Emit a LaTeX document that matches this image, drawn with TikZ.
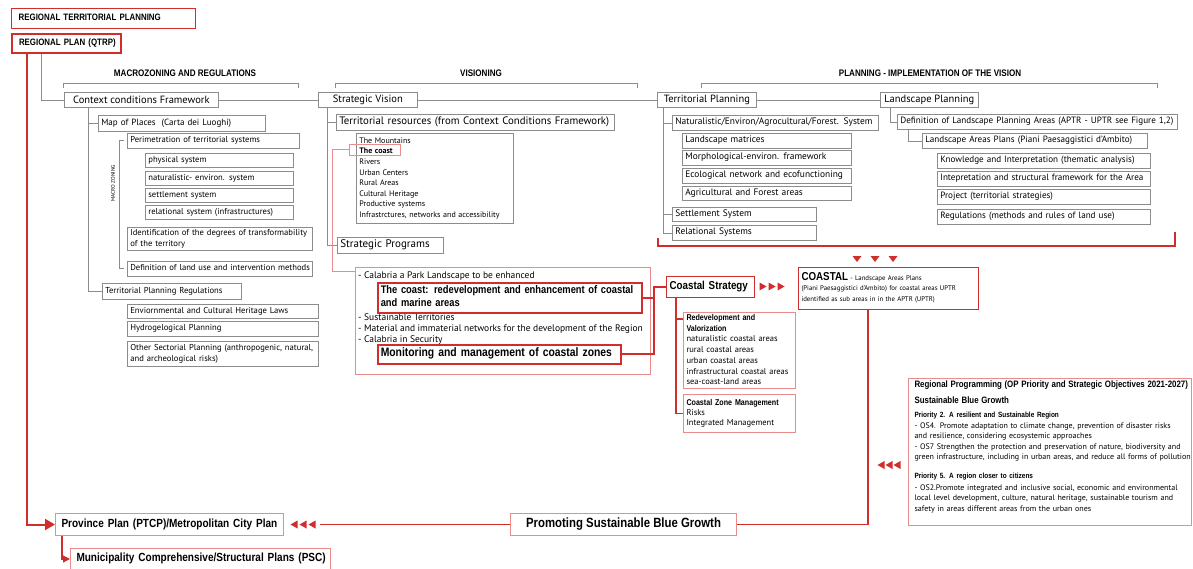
\documentclass[tikz,border=0pt]{standalone}
\usepackage{fontspec}
\setmainfont{PT Sans}
\newfontfamily\hf[FakeStretch=0.85]{Liberation Sans}
\usetikzlibrary{arrows.meta}
\definecolor{myred}{RGB}{208,45,45}
\definecolor{lred}{RGB}{234,140,140}
\definecolor{lgray}{RGB}{140,140,140}
\newcommand\bx[7][]{\pgfmathsetmacro\bxw{#5-#3-6}\pgfmathsetmacro\bxh{#6-#4}%
\node[anchor=north west,text width=\bxw pt,minimum height=\bxh pt,inner xsep=3pt,inner ysep=0pt,#1] (#2) at (#3,#4) {\begin{tabular}{@{}l@{}}#7\end{tabular}};}
\newcommand\cbx[7][]{\pgfmathsetmacro\bxw{#5-#3}\pgfmathsetmacro\bxh{#6-#4}%
\node[anchor=north west,minimum width=\bxw pt,minimum height=\bxh pt,inner sep=0pt,#1] (#2) at (#3,#4) {#7};}
\begin{document}
\begin{tikzpicture}[x=1pt,y=-1pt,
  gb/.style={draw=lgray,line width=0.7pt,fill=white,font=\fontsize{9.4}{10.5}\selectfont},
  lpb/.style={font=\fontsize{9.1}{10.5}\selectfont},
  big/.style={font=\fontsize{10.5}{12}\selectfont},
  sm/.style={font=\fontsize{8.6}{10.5}\selectfont},
  rb/.style={draw=myred,line width=1.5pt,fill=white},
  lrb/.style={draw=lred,line width=1pt,fill=white},
  gl/.style={draw=lgray,line width=0.7pt},
  rl/.style={draw=myred,line width=1.6pt},
  lrl/.style={draw=lred,line width=1pt},
  hd/.style={font=\hf\bfseries\fontsize{9.5}{10}\selectfont,inner sep=0pt},
  tt/.style={font=\hf\bfseries\fontsize{9.3}{10}\selectfont},
  bf/.style={font=\hf\bfseries\fontsize{11}{13}\selectfont},
  rtri/.pic={\fill[myred] (-3.5,-4) -- (3.5,0) -- (-3.5,4) -- cycle;},
  ltri/.pic={\fill[myred] (3.5,-4) -- (-3.5,0) -- (3.5,4) -- cycle;},
  dtri/.pic={\fill[myred] (-4.5,-3) -- (4.5,-3) -- (0,3) -- cycle;}]
\useasboundingbox (0,0) rectangle (1193,568);
% top titles
\bx[rb,line width=1.3pt,tt]{rtp}{11}{8}{195}{28}{\hspace*{4pt}REGIONAL TERRITORIAL PLANNING}
\bx[rb,line width=2pt,tt]{rp}{11}{33}{120}{52}{\hspace*{4pt}REGIONAL PLAN (QTRP)}
% headers
\node[hd] (h1) at (185,73) {MACROZONING AND REGULATIONS};
\node[hd] (h2) at (481,73) {VISIONING};
\node[hd] (h3) at (930,73) {PLANNING - IMPLEMENTATION OF THE VISION};
\draw[gl] (63,88) -- (63,83) -- (298,83) -- (298,88);
\draw[gl] (335,88) -- (335,83) -- (637,83) -- (637,88);
\draw[gl] (701,88) -- (701,83) -- (1157,83) -- (1157,88);
% main row
\cbx[gb,big]{ctx}{64}{92}{218}{107}{Context conditions Framework}
\cbx[gb,big]{sv}{318}{92}{417}{107}{Strategic Vision}
\cbx[gb,big]{tp}{657}{92}{756}{107}{Territorial Planning}
\cbx[gb,big]{lp}{880}{92}{978}{107}{Landscape Planning}
% context tree
\bx[gb,font=\fontsize{9}{10.5}\selectfont]{map}{98}{115}{265}{131}{Map of Places\ \ (Carta dei Luoghi)}
\bx[gb,sm]{per}{127}{133}{299}{148}{Perimetration of territorial systems}
\bx[gb,sm]{phy}{145}{153}{293}{167}{physical system}
\bx[gb,sm]{nat}{145}{171}{293}{185}{naturalistic- environ. system}
\bx[gb,sm]{set}{145}{188}{293}{202}{settlement system}
\bx[gb,sm]{rel}{145}{205}{293}{219}{relational system (infrastructures)}
\bx[gb,sm]{ide}{127}{227}{312}{250}{Identification of the degrees of transformability\\of the territory}
\bx[gb,sm]{def}{127}{261}{312}{276}{Definition of land use and intervention methods}
\bx[gb,sm]{tpr}{102}{283}{241}{299}{Territorial Planning Regulations}
\bx[gb,sm]{env}{127}{304}{318}{318}{Enviornmental and Cultural Heritage Laws}
\bx[gb,sm]{hyd}{127}{321}{318}{336}{Hydrogelogical Planning}
\bx[gb,sm]{oth}{127}{341}{318}{366}{Other Sectorial Planning (anthropogenic, natural,\\and archeological risks)}
\node[rotate=90,font=\fontsize{5.3}{6}\selectfont,inner sep=0pt] (mz) at (113,183) {MACRO ZONING};
\draw[gl] (124,140) -- (119,140) -- (119,268) -- (124,268);
\draw[gl] ([xshift=30pt]rp.south west) |- (ctx.west);
\draw[gl] (ctx.east) -- (sv.west);
\draw[gl] (sv.east) -- (tp.west);
\draw[gl] (tp.east) -- (lp.west);
\draw[gl] ([xshift=24pt]ctx.south west) |- (map.west);
\draw[gl] ([xshift=24pt]ctx.south west) |- (tpr.west);
% vision tree
\bx[gb,font=\fontsize{10.8}{12}\selectfont]{trs}{336}{114}{614}{130}{Territorial resources (from Context Conditions Framework)}
\bx[gb,font=\fontsize{8}{10.6}\selectfont]{trl}{356}{133}{513}{223}{The Mountains\\{\bfseries The coast}\\Rivers\\Urban Centers\\Rural Areas\\Cultural Heritage\\Productive systems\\Infrastrctures, networks and accessibility}
\node[draw=lred,line width=0.8pt,minimum width=51pt,minimum height=11pt,anchor=north west,inner sep=0pt] (coast) at (349,144) {};
\bx[gb,font=\fontsize{11}{12}\selectfont]{sp}{337}{237}{443}{253}{Strategic Programs}
\draw[gl] ([xshift=9pt]sv.south west) |- (trs.west);
\draw[gl] ([xshift=9pt]sv.south west) |- (sp.west);
% calabria box
\node[lrb,anchor=north west,minimum width=295pt,minimum height=107pt,inner sep=0pt,fill=none] (cal) at (355,267) {};
\node[anchor=west,inner sep=0pt,font=\fontsize{9.5}{10}\selectfont] (c1) at (358,276) {- Calabria a Park Landscape to be enhanced};
\node[anchor=west,inner sep=0pt,font=\fontsize{9.5}{10}\selectfont] (c2) at (358,317) {- Sustainable Territories};
\node[anchor=west,inner sep=0pt,font=\fontsize{9.5}{10}\selectfont] (c3) at (358,329) {- Material and immaterial networks for the development of the Region};
\node[anchor=west,inner sep=0pt,font=\fontsize{9.5}{10}\selectfont] (c4) at (358,340) {- Calabria in Security};
\bx[rb,bf]{ctc}{377}{282}{641}{312}{The coast: redevelopment and enhancement of coastal\\and marine areas}
\bx[rb,font=\hf\bfseries\fontsize{12.2}{13}\selectfont]{mon}{377}{344}{620}{363}{Monitoring and management of coastal zones}
\draw[lrl] (coast.west) -- ++(-17,0) |- ([yshift=-4pt]cal.north west);
% coastal strategy
\bx[rb,line width=1.2pt,font=\hf\bfseries\fontsize{11.5}{13}\selectfont]{cs}{666}{276}{754}{297}{Coastal Strategy}
\coordinate (jn) at ([xshift=-12pt]cs.west);
\draw[rl] (ctc.east) -- (ctc.east -| jn);
\draw[rl] (mon.east) -| (jn) -- (cs.west);
\pic at (763,286.5) {rtri};
\pic at (772,286.5) {rtri};
\pic at (781,286.5) {rtri};
\bx[lrb,font=\fontsize{8.5}{10.7}\selectfont]{red}{683}{312}{795}{388}{{\hf\bfseries\fontsize{8.4}{10.7}\selectfont Redevelopment and}\\{\hf\bfseries\fontsize{8.4}{10.7}\selectfont Valorization}\\naturalistic coastal areas\\rural coastal areas\\urban coastal areas\\infrastructural coastal areas\\sea-coast-land areas}
\bx[lrb,font=\fontsize{8.5}{10}\selectfont]{czm}{683}{394}{795}{432}{{\hf\bfseries\fontsize{8.4}{10}\selectfont Coastal Zone Management}\\Risks\\Integrated Management}
\draw[rl,line width=1.2pt] ([xshift=10pt]cs.south west) |- ([yshift=-7pt]red.north west);
\draw[rl,line width=1.2pt] ([xshift=10pt]cs.south west) |- (czm.west);
% coastal box
\bx[rb,line width=1pt,font=\fontsize{6.8}{10.5}\selectfont]{coastal}{798}{267}{978}{309}{{\hf\bfseries\fontsize{11.5}{11}\selectfont COASTAL} - Landscape Areas Plans\\(Piani Paesaggistici d'Ambito) for coastal areas UPTR\\identified as sub areas in in the APTR (UPTR)}
\pic at (857,259) {dtri};
\pic at (875,259) {dtri};
\pic at (893,259) {dtri};
% territorial planning tree
\bx[gb]{nafs}{672}{115}{878}{130}{Naturalistic/Environ/Agrocultural/Forest. System}
\bx[gb]{lm}{682}{133}{851}{148}{Landscape matrices}
\bx[gb]{mo}{682}{150}{851}{165}{Morphological-environ. framework}
\bx[gb]{eco}{682}{168}{851}{183}{Ecological network and ecofunctioning}
\bx[gb]{agr}{682}{186}{851}{200}{Agricultural and Forest areas}
\bx[gb]{ss}{672}{207}{816}{221}{Settlement System}
\bx[gb]{rs}{672}{225}{816}{240}{Relational Systems}
\draw[gl] ([xshift=6pt]tp.south west) |- (nafs.west);
\draw[gl] ([xshift=6pt]tp.south west) |- (ss.west);
\draw[gl] ([xshift=6pt]tp.south west) |- (rs.west);
% landscape planning tree
\bx[gb,lpb]{dla}{897}{114}{1177}{129}{Definition of Landscape Planning Areas (APTR - UPTR see Figure 1,2)}
\bx[gb,lpb]{lap}{922}{133}{1147}{148}{Landscape Areas Plans (Piani Paesaggistici d'Ambito)}
\bx[gb,lpb]{kn}{937}{153}{1150}{168}{Knowledge and Interpretation (thematic analysis)}
\bx[gb,lpb]{ip}{937}{171}{1150}{186}{Intepretation and structural framework for the Area}
\bx[gb,lpb]{pj}{937}{189}{1150}{204}{Project (territorial strategies)}
\bx[gb,lpb]{rg}{937}{209}{1150}{224}{Regulations (methods and rules of land use)}
\draw[gl] ([xshift=10pt]lp.south west) |- (dla.west);
\draw[gl] ([xshift=11pt]dla.south west) |- (lap.west);
\draw[rl,line width=1.5pt] (658,238) -- (658,246) -- (1175,246) -- (1175,232);
% regional programming
\bx[lrb,font=\fontsize{8}{10.3}\selectfont]{rpg}{908}{378}{1191}{525}{\hspace*{3pt}{\hf\bfseries\fontsize{9.3}{10}\selectfont Regional Programming (OP Priority and Strategic Objectives 2021-2027)}\\[6pt]
\hspace*{3pt}{\hf\bfseries\fontsize{9.3}{10}\selectfont Sustainable Blue Growth}\\[4pt]
\hspace*{3pt}{\hf\bfseries\fontsize{7.6}{10}\selectfont Priority 2. A resilient and Sustainable Region}\\[0.5pt]
\hspace*{3pt}- OS4. Promote adaptation to climate change, prevention of disaster risks\\
\hspace*{3pt}and resilience, considering ecosystemic approaches\\
\hspace*{3pt}- OS7 Strengthen the protection and preservation of nature, biodiversity and\\
\hspace*{3pt}green infrastructure, including in urban areas, and reduce all forms of pollution\\[9pt]
\hspace*{3pt}{\hf\bfseries\fontsize{7.6}{10}\selectfont Priority 5. A region closer to citizens}\\[1.5pt]
\hspace*{3pt}- OS2.Promote integrated and inclusive social, economic and environmental\\
\hspace*{3pt}local level development, culture, natural heritage, sustainable tourism and\\
\hspace*{3pt}safety in areas different areas from the urban ones\\[10pt]}
\pic at (881,465) {ltri};
\pic at (889,465) {ltri};
\pic at (897,465) {ltri};
% bottom
\bx[lrb,font=\hf\bfseries\fontsize{11.8}{13}\selectfont]{prov}{55}{513}{283}{535}{\hspace*{3pt}Province Plan (PTCP)/Metropolitan City Plan}
\cbx[lrb,font=\hf\bfseries\fontsize{13.4}{15}\selectfont]{pbg}{510}{513}{736}{535}{Promoting Sustainable Blue Growth}
\bx[lrb,font=\hf\bfseries\fontsize{11.8}{13}\selectfont]{mun}{70}{548}{330}{569}{\hspace*{3pt}Municipality Comprehensive/Structural Plans (PSC)}
\draw[rl,line width=2pt,-{Triangle[length=10pt,width=11pt]}] ([xshift=16pt]rp.south west) |- (prov.west);
\draw[rl,line width=1.2pt,-{Triangle[length=7pt,width=7pt]}] ([xshift=7pt]prov.south west) |- (mun.west);
\draw[rl] (pbg.west) -- ([xshift=36pt]prov.east);
\pic at ([xshift=10pt]prov.east) {ltri};
\pic at ([xshift=19pt]prov.east) {ltri};
\pic at ([xshift=28pt]prov.east) {ltri};
\draw[rl] ([xshift=70pt]coastal.south west) |- (pbg.east);
\end{tikzpicture}
\end{document}
